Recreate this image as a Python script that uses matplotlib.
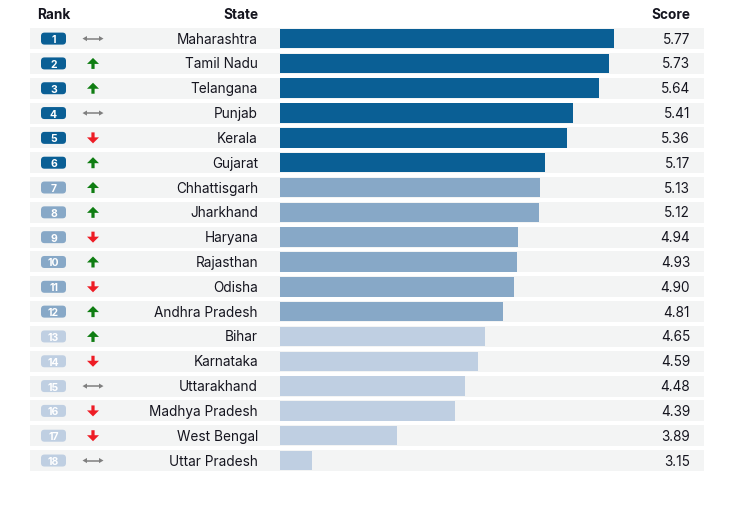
import matplotlib
matplotlib.use("Agg")
import matplotlib.pyplot as plt
from matplotlib.patches import Rectangle, FancyBboxPatch, Polygon

ranks = list(range(1, 19))
states = ["Maharashtra", "Tamil Nadu", "Telangana", "Punjab", "Kerala", "Gujarat",
          "Chhattisgarh", "Jharkhand", "Haryana", "Rajasthan", "Odisha", "Andhra Pradesh",
          "Bihar", "Karnataka", "Uttarakhand", "Madhya Pradesh", "West Bengal", "Uttar Pradesh"]
scores = [5.77, 5.73, 5.64, 5.41, 5.36, 5.17, 5.13, 5.12, 4.94, 4.93, 4.90, 4.81,
          4.65, 4.59, 4.48, 4.39, 3.89, 3.15]
changes = ["same", "up", "up", "same", "down", "up", "up", "up", "down", "up", "down", "up",
           "up", "down", "same", "down", "down", "same"]
tiers = [0]*6 + [1]*6 + [2]*6

tier_colors = ["#0a5f95", "#87a8c7", "#bfcfe2"]
band_color = "#f3f4f4"
arrow_colors = {"up": "#0f7d12", "down": "#ee1c25", "same": "#7f7f7f"}

plt.rcParams['font.family'] = ['Inter', 'DejaVu Sans']

W, H = 749, 506
fig = plt.figure(figsize=(W/100, H/100), dpi=100)
ax = fig.add_axes([0, 0, 1, 1])
ax.set_xlim(0, W)
ax.set_ylim(H, 0)
ax.axis('off')

y0, pitch = 39.6, 24.82
band_h, bar_h = 21.0, 19.5
text_color = "#15151f"
fs = 9.8

# headers
ax.text(37, 15, "Rank", ha='left', va='center', fontsize=fs, fontweight='bold', color=text_color)
ax.text(258, 15, "State", ha='right', va='center', fontsize=fs, fontweight='bold', color=text_color)
ax.text(690, 15, "Score", ha='right', va='center', fontsize=fs, fontweight='bold', color=text_color)

ax_c = 93
for i, (r, st, sc, ch, t) in enumerate(zip(ranks, states, scores, changes, tiers)):
    yc = y0 + i * pitch
    ax.add_patch(Rectangle((30, yc - band_h/2), 674, band_h, facecolor=band_color,
                           edgecolor='none', zorder=0))
    # rank badge
    ax.add_patch(FancyBboxPatch((41, yc - 6), 25, 12,
                                boxstyle="round,pad=0,rounding_size=3.5",
                                facecolor=tier_colors[t], edgecolor='none', zorder=2))
    ax.text(53.5, yc + 0.5, str(r), ha='center', va='center', fontsize=7.5,
            fontweight='bold', color='white', zorder=3)
    # change indicator
    c = arrow_colors[ch]
    if ch in ("up", "down"):
        s = -1 if ch == "up" else 1
        pts = [(0, 5.5), (-6, -0.5), (-1.6, -0.5), (-1.6, -5.5), (1.6, -5.5), (1.6, -0.5), (6, -0.5)]
        ax.add_patch(Polygon([(ax_c + px, yc + s * py) for px, py in pts], closed=True,
                             facecolor=c, edgecolor='none', zorder=3))
    else:
        ax.plot([ax_c - 7, ax_c + 7], [yc, yc], color=c, lw=1.1, solid_capstyle='butt', zorder=3)
        for d in (-1, 1):
            tip = ax_c + d * 10.5
            base = ax_c + d * 6
            ax.add_patch(Polygon([(tip, yc), (base, yc - 2.6), (base, yc + 2.6)], closed=True,
                                 facecolor=c, edgecolor='none', zorder=3))
    ax.text(258, yc, st, ha='right', va='center', fontsize=fs, color=text_color)
    ax.text(690, yc, f"{sc:.2f}", ha='right', va='center', fontsize=fs, color=text_color)

# bar axes
x0 = 2.87
bx = fig.add_axes([280/W, 0, (614-280)/W, 1])
bx.set_xlim(x0, max(scores))
bx.set_ylim((H - y0)/pitch, -y0/pitch)
bx.axis('off')
bx.patch.set_alpha(0)
bx.barh(range(len(scores)), [s - x0 for s in scores], left=x0, height=bar_h/pitch,
        color=[tier_colors[t] for t in tiers], edgecolor='none', zorder=2)

fig.savefig("out.png", dpi=100)
